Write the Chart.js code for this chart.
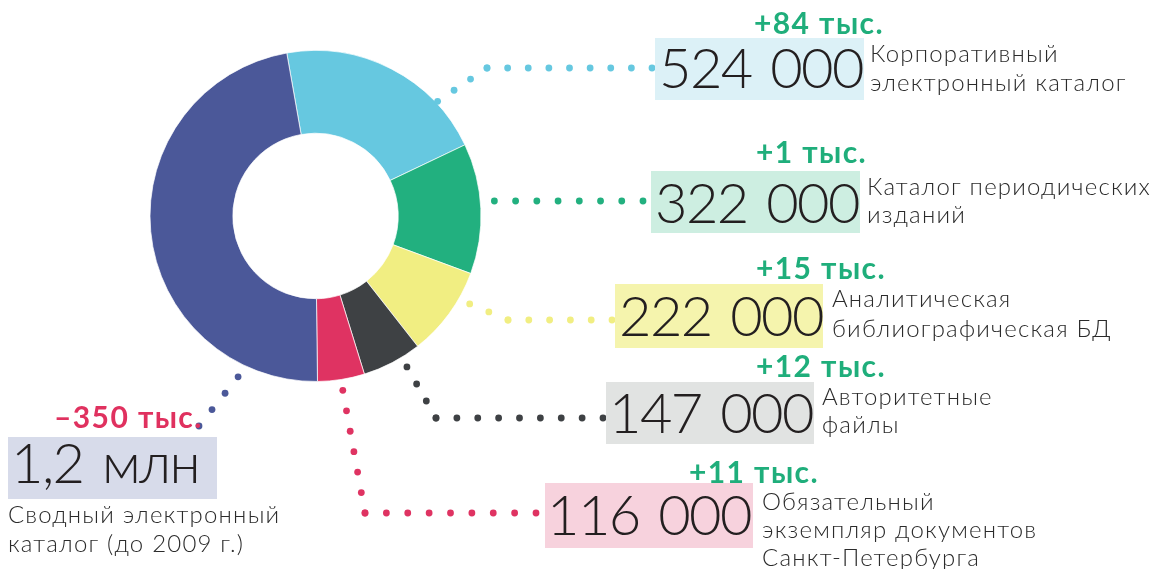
<!DOCTYPE html>
<html lang="ru">
<head>
<meta charset="utf-8">
<script src="https://cdn.jsdelivr.net/npm/chart.js@4.4.1/dist/chart.umd.min.js"></script>
<style>
  html, body { margin: 0; padding: 0; background: #fff; }
  #wrap { position: relative; width: 1158px; height: 569px; overflow: hidden; }
  #chart { position: absolute; left: 0; top: 0; }
  .box { position: absolute; }
  .txt { position: absolute; white-space: pre; font-family: Lato, 'Open Sans', sans-serif; }
  .num { font-weight: 300; font-size: 56px; letter-spacing: -1.6px; word-spacing: 5px; color: #231f20; }
  .desc { font-weight: 300; font-size: 24px; letter-spacing: 1.2px; color: #2b2b2b; }
  .delta { font-weight: 700; font-size: 30px; letter-spacing: 1.4px; }
</style>
</head>
<body>
<div id="wrap"><canvas id="chart" width="1158" height="569"></canvas></div>
<script>
// data, clockwise from the top
const categories = [
    ['Корпоративный', 'электронный каталог'],
    ['Каталог периодических', 'изданий'],
    ['Аналитическая', 'библиографическая БД'],
    ['Авторитетные', 'файлы'],
    ['Обязательный', 'экземпляр документов', 'Санкт-Петербурга'],
    ['Сводный электронный', 'каталог (до 2009 г.)']
];
const values = [524000, 322000, 222000, 147000, 116000, 1200000];
const changes = ['+84 тыс.', '+1 тыс.', '+15 тыс.', '+12 тыс.', '+11 тыс.', '–350 тыс.'];

const sliceColors = ['#66c8e0', '#22b07f', '#f1ee82', '#3e4144', '#df3362', '#4b5899'];
const boxColors = ['#dcf1f7', '#cdeee1', '#f5f4ad', '#e1e3e2', '#f7d2dd', '#d7dbea'];
const changeColors = ['#1fae7b', '#1fae7b', '#1fae7b', '#1fae7b', '#1fae7b', '#e0315f'];

// where each label block sits (page px)
const labelLayout = [
    { box: [655, 38, 209, 62], num: [659, 88], delta: [754, 34], desc: [870, 62], gap: 29,
      leader: { angle: 46.8, off: 2, path: [[487, 68], [652, 68]] } },
    { box: [651, 171, 209, 62], num: [655, 223], delta: [756, 163], desc: [867, 195], gap: 28,
      leader: { angle: 85.2, off: 14, path: [[643, 201]] } },
    { box: [615, 284, 208, 64], num: [619, 336], delta: [756, 279], desc: [832, 307], gap: 30,
      leader: { angle: 119.7, off: 12, path: [[508, 320], [612, 320]] } },
    { box: [606, 382, 208, 62], num: [609, 433], delta: [756, 377], desc: [822, 405], gap: 28,
      leader: { angle: 148.8, off: 11, path: [[436, 418], [603, 418]] } },
    { box: [545, 483, 208, 65], num: [547, 535], delta: [689, 483], desc: [762, 510], gap: 28,
      leader: { angle: 171.1, off: 11, path: [[365, 513], [536, 513]] } },
    { box: [8, 437, 209, 62], num: [11, 483], delta: [54, 428], desc: [8, 523], gap: 29,
      leader: { angle: 205.7, off: 13, path: [[199, 426]] } }
];

function fmt(v) {
    if (v >= 1e6) return String(v / 1e6).replace('.', ',') + ' млн';
    return String(v).replace(/\B(?=(\d{3})+(?!\d))/g, ' ');
}

const wrap = document.getElementById('wrap');

// place a text so that its baseline lands on baseY
function putText(txt, x, baseY, cls, color) {
    const d = document.createElement('div');
    d.className = 'txt ' + cls;
    d.style.left = x + 'px';
    d.style.top = '0px';
    if (color) d.style.color = color;
    d.textContent = txt;
    const m = document.createElement('span');
    m.style.cssText = 'display:inline-block;width:0;height:0;vertical-align:baseline';
    d.appendChild(m);
    wrap.appendChild(d);
    const off = m.getBoundingClientRect().top - d.getBoundingClientRect().top;
    d.style.top = (baseY - off) + 'px';
}

labelLayout.forEach((l, i) => {
    const b = document.createElement('div');
    b.className = 'box';
    b.style.cssText = `left:${l.box[0]}px;top:${l.box[1]}px;width:${l.box[2]}px;height:${l.box[3]}px;background:${boxColors[i]}`;
    wrap.appendChild(b);
    putText(fmt(values[i]), l.num[0], l.num[1], 'num');
    putText(changes[i], l.delta[0], l.delta[1], 'delta', changeColors[i]);
    categories[i].forEach((line, k) => putText(line, l.desc[0], l.desc[1] + k * l.gap, 'desc'));
});

// dotted leader lines, starting just outside each slice
const leaderPlugin = {
    id: 'leaders',
    afterDatasetsDraw(chart) {
        const ctx = chart.ctx;
        const arcs = chart.getDatasetMeta(0).data;
        ctx.save();
        labelLayout.forEach((l, i) => {
            const arc = arcs[i];
            const a = l.leader.angle * Math.PI / 180;
            const r = arc.outerRadius + l.leader.off;
            const pts = [[arc.x + r * Math.sin(a), arc.y - r * Math.cos(a)], ...l.leader.path];
            ctx.fillStyle = sliceColors[i];
            for (let k = 0; k < pts.length - 1; k++) {
                const [x0, y0] = pts[k], [x1, y1] = pts[k + 1];
                const n = Math.max(1, Math.round(Math.hypot(x1 - x0, y1 - y0) / 20.5));
                for (let j = 0; j <= n; j++) {
                    ctx.beginPath();
                    ctx.arc(x0 + (x1 - x0) * j / n, y0 + (y1 - y0) * j / n, 3.4, 0, Math.PI * 2);
                    ctx.fill();
                }
            }
        });
        ctx.restore();
    }
};

new Chart(document.getElementById('chart'), {
    type: 'doughnut',
    data: {
        labels: categories.map(c => c.join(' ')),
        datasets: [{
            data: values,
            backgroundColor: sliceColors,
            borderColor: 'rgba(255,255,255,0.7)',
            borderWidth: 1
        }]
    },
    options: {
        responsive: false,
        animation: false,
        rotation: -10,
        cutout: '50%',
        layout: { padding: { left: 149.5, top: 50, right: 676.5, bottom: 187 } },
        plugins: { legend: { display: false }, tooltip: { enabled: false } }
    },
    plugins: [leaderPlugin]
});
</script>
</body>
</html>
